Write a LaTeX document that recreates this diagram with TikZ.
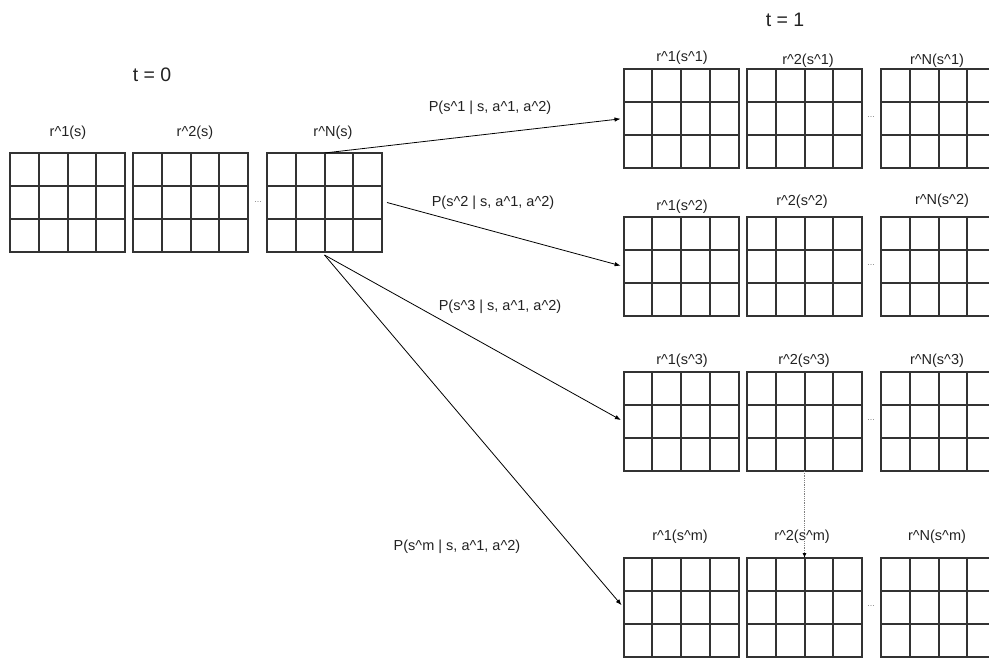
\documentclass[tikz,border=0pt]{standalone}
\usepackage{fontspec}
\setmainfont{Liberation Sans}
\usetikzlibrary{arrows.meta}
\definecolor{gridc}{HTML}{333333}
\definecolor{textc}{HTML}{222222}
\newcommand{\crt}{\textasciicircum}
\tikzset{
  qtable/.style={draw=gridc, line width=2pt, minimum width=115pt, minimum height=99pt,
    inner sep=0pt, outer sep=0pt,
    path picture={
      \foreach \dx in {-28.75,0,28.75}
        \draw[gridc, line width=2pt] ([xshift=\dx pt]path picture bounding box.north)
          -- ([xshift=\dx pt]path picture bounding box.south);
      \foreach \dy in {-16.5,16.5}
        \draw[gridc, line width=2pt] ([yshift=\dy pt]path picture bounding box.west)
          -- ([yshift=\dy pt]path picture bounding box.east);
    }},
  rlabel/.style={text=textc, font=\fontsize{14.5}{16}\selectfont, inner sep=0pt},
  tlabel/.style={text=textc, font=\fontsize{19.5}{22}\selectfont, inner sep=0pt},
  plabel/.style={text=textc, font=\fontsize{14.5}{16}\selectfont, inner sep=0pt},
  moredots/.style={text=gray, font=\fontsize{9}{10}\selectfont, inner sep=0pt},
  trans/.style={black, line width=0.8pt, -{Latex[length=6pt,width=4.5pt]}, shorten >=3pt}
}
\begin{document}
\begin{tikzpicture}[x=1pt, y=-1pt]
  \useasboundingbox (0,0) rectangle (989,658);

  % Time steps
  \node[tlabel] (t0) at (152,75) {t = 0};
  \node[tlabel] (t1) at (785,20) {t = 1};

  % Reward tables at t = 0
  \node[qtable] (s0r1) at (67.5,202.5) {};
  \node[qtable] (s0r2) at (190.5,202.5) {};
  \node[qtable] (s0rN) at (324.5,202.5) {};
  \node[moredots] (s0dots) at (258,202) {...};
  \node[rlabel] (l0r1) at (68,133) {r\crt1(s)};
  \node[rlabel] (l0r2) at (195,133) {r\crt2(s)};
  \node[rlabel] (l0rN) at (333,133) {r\crt N(s)};

  % Reward tables at t = 1, next state s^1
  \node[qtable] (s1r1) at (681,118.5) {};
  \node[qtable] (s1r2) at (804.5,118.5) {};
  \node[qtable] (s1rN) at (938.5,118.5) {};
  \node[moredots] (s1dots) at (871,117) {...};
  \node[rlabel] (l1r1) at (682,58) {r\crt1(s\crt1)};
  \node[rlabel] (l1r2) at (808,61) {r\crt2(s\crt1)};
  \node[rlabel] (l1rN) at (937,61) {r\crt N(s\crt1)};

  % next state s^2
  \node[qtable] (s2r1) at (681,266.5) {};
  \node[qtable] (s2r2) at (804.5,266.5) {};
  \node[qtable] (s2rN) at (938.5,266.5) {};
  \node[moredots] (s2dots) at (871,265) {...};
  \node[rlabel] (l2r1) at (682,207) {r\crt1(s\crt2)};
  \node[rlabel] (l2r2) at (802,202) {r\crt2(s\crt2)};
  \node[rlabel] (l2rN) at (942,201) {r\crt N(s\crt2)};

  % next state s^3
  \node[qtable] (s3r1) at (681,421.5) {};
  \node[qtable] (s3r2) at (804.5,421.5) {};
  \node[qtable] (s3rN) at (938.5,421.5) {};
  \node[moredots] (s3dots) at (871,420) {...};
  \node[rlabel] (l3r1) at (682,361) {r\crt1(s\crt3)};
  \node[rlabel] (l3r2) at (804,361) {r\crt2(s\crt3)};
  \node[rlabel] (l3rN) at (937,361) {r\crt N(s\crt3)};

  % next state s^m
  \node[qtable] (smr1) at (681,607.5) {};
  \node[qtable] (smr2) at (804.5,607.5) {};
  \node[qtable] (smrN) at (938.5,607.5) {};
  \node[moredots] (smdots) at (871,606) {...};
  \node[rlabel] (lmr1) at (680,537) {r\crt1(s\crt m)};
  \node[rlabel] (lmr2) at (802,537) {r\crt2(s\crt m)};
  \node[rlabel] (lmrN) at (937,537) {r\crt N(s\crt m)};

  % Transition probabilities
  \node[plabel] (p1) at (490,108) {P(s\crt1 | s, a\crt1, a\crt2)};
  \node[plabel] (p2) at (493,203) {P(s\crt2 | s, a\crt1, a\crt2)};
  \node[plabel] (p3) at (500,307) {P(s\crt3 | s, a\crt1, a\crt2)};
  \node[plabel] (pm) at (457,547) {P(s\crt m | s, a\crt1, a\crt2)};

  % Edges (transitions to the next state)
  \draw[trans] (s0rN.north) -- (s1r1.west);
  \draw[trans] ([xshift=5pt]s0rN.east) -- (s2r1.west);
  \draw[trans] ([yshift=-3pt]s0rN.south) -- (s3r1.west);
  \draw[trans] ([yshift=-3pt]s0rN.south) -- (smr1.west);
  \draw[gray, densely dotted, line width=0.8pt, -{Latex[length=5pt,width=4pt,black]}]
    (s3r2.south) -- (smr2.north);
\end{tikzpicture}
\end{document}
